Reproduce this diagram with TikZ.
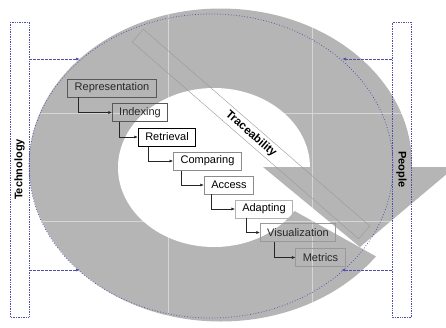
\documentclass[tikz,border=0pt]{standalone}
\usepackage{fontspec}
\setmainfont{Liberation Sans}
\usetikzlibrary{arrows.meta}
\definecolor{shapegray}{RGB}{181,181,181}
\definecolor{linkblue}{RGB}{80,80,170}
\definecolor{textgray}{RGB}{40,40,40}

\begin{document}
\begin{tikzpicture}[x=1pt,y=-1pt,
  stepbox/.style={draw,line width=0.6pt,inner xsep=7pt,inner ysep=0pt,minimum height=18pt,font=\fontsize{11}{13}\selectfont},
  flow/.style={-{Latex[length=3.5pt,width=3pt]},line width=0.6pt,black!85},
  sidebox/.style={draw=linkblue,densely dotted,line width=0.7pt,minimum width=295pt,minimum height=19pt,inner sep=0pt,font=\fontsize{11}{13}\selectfont\bfseries},
  link/.style={linkblue,dash pattern=on 2.5pt off 1.5pt,line width=0.75pt,-{Latex[length=4pt,width=3pt]}}]
\useasboundingbox (0,0) rectangle (446,327);
\clip (0,0) rectangle (446,327);
\fill[shapegray] (220.5,165) ellipse [x radius=191.5, y radius=156.5];
\fill[white] (214,167.5) ellipse [x radius=96, y radius=79.5];
\fill[white] (216,167) -- (470,167) -- (470,308.7) -- cycle;
\fill[shapegray] (263,167) -- (455,167) -- (360,247) -- cycle;
\draw[white,opacity=0.45,line width=0.5pt] (168,0) -- (168,327) (312,0) -- (312,327)
  (0,113) -- (446,113) (0,221) -- (446,221);
\draw[linkblue,dotted,line width=0.75pt] (211,166) ellipse [x radius=182, y radius=152];
\node[draw=gray!80,line width=0.4pt,rotate=-41,minimum width=300pt,minimum height=17pt,inner sep=0pt,
  font=\fontsize{11.5}{13}\selectfont\bfseries] (trace) at (251,134) {Traceability};

\node[stepbox,draw=black!65,text=textgray] (rep) at (112,88) {Representation};
\node[stepbox,draw=black!65,text=textgray] (idx) at (140,112.5) {Indexing};
\node[stepbox,draw=black,line width=1pt] (ret) at (167,137) {Retrieval};
\node[stepbox,draw=black!45,line width=1pt] (cmp) at (207.5,161) {Comparing};
\node[stepbox,draw=black!45,line width=0.9pt] (acc) at (229,185) {Access};
\node[stepbox,draw=black!30] (adp) at (264,209) {Adapting};
\node[stepbox,draw=black!40,text=textgray] (vis) at (298,232.5) {Visualization};
\node[stepbox,draw=black!40,text=textgray] (met) at (320.5,257.5) {Metrics};
\draw[flow] ([xshift=11pt]rep.south west) |- (idx.west);
\draw[flow] ([xshift=7pt]idx.south west) |- (ret.west);
\draw[flow] ([xshift=10pt]ret.south west) |- (cmp.west);
\draw[flow] ([xshift=8pt]cmp.south west) |- (acc.west);
\draw[flow] ([xshift=7pt]acc.south west) |- (adp.west);
\draw[flow] ([xshift=11pt]adp.south west) |- (vis.west);
\draw[flow] ([xshift=14pt]vis.south west) |- (met.west);

\node[sidebox,rotate=90] (tech) at (19.5,169.5) {Technology};
\node[sidebox,rotate=-90] (people) at (401.5,169.5) {People};
\coordinate (techtop) at (80,59);
\coordinate (techbot) at (80,270);
\coordinate (peopletop) at (342,59);
\coordinate (peoplebot) at (341,270);
\draw[link] (techtop -| tech.south) -- (techtop);
\draw[link] (techbot -| tech.south) -- (techbot);
\draw[link] (peopletop -| people.south) -- (peopletop);
\draw[link] (peoplebot -| people.south) -- (peoplebot);
\end{tikzpicture}
\end{document}
